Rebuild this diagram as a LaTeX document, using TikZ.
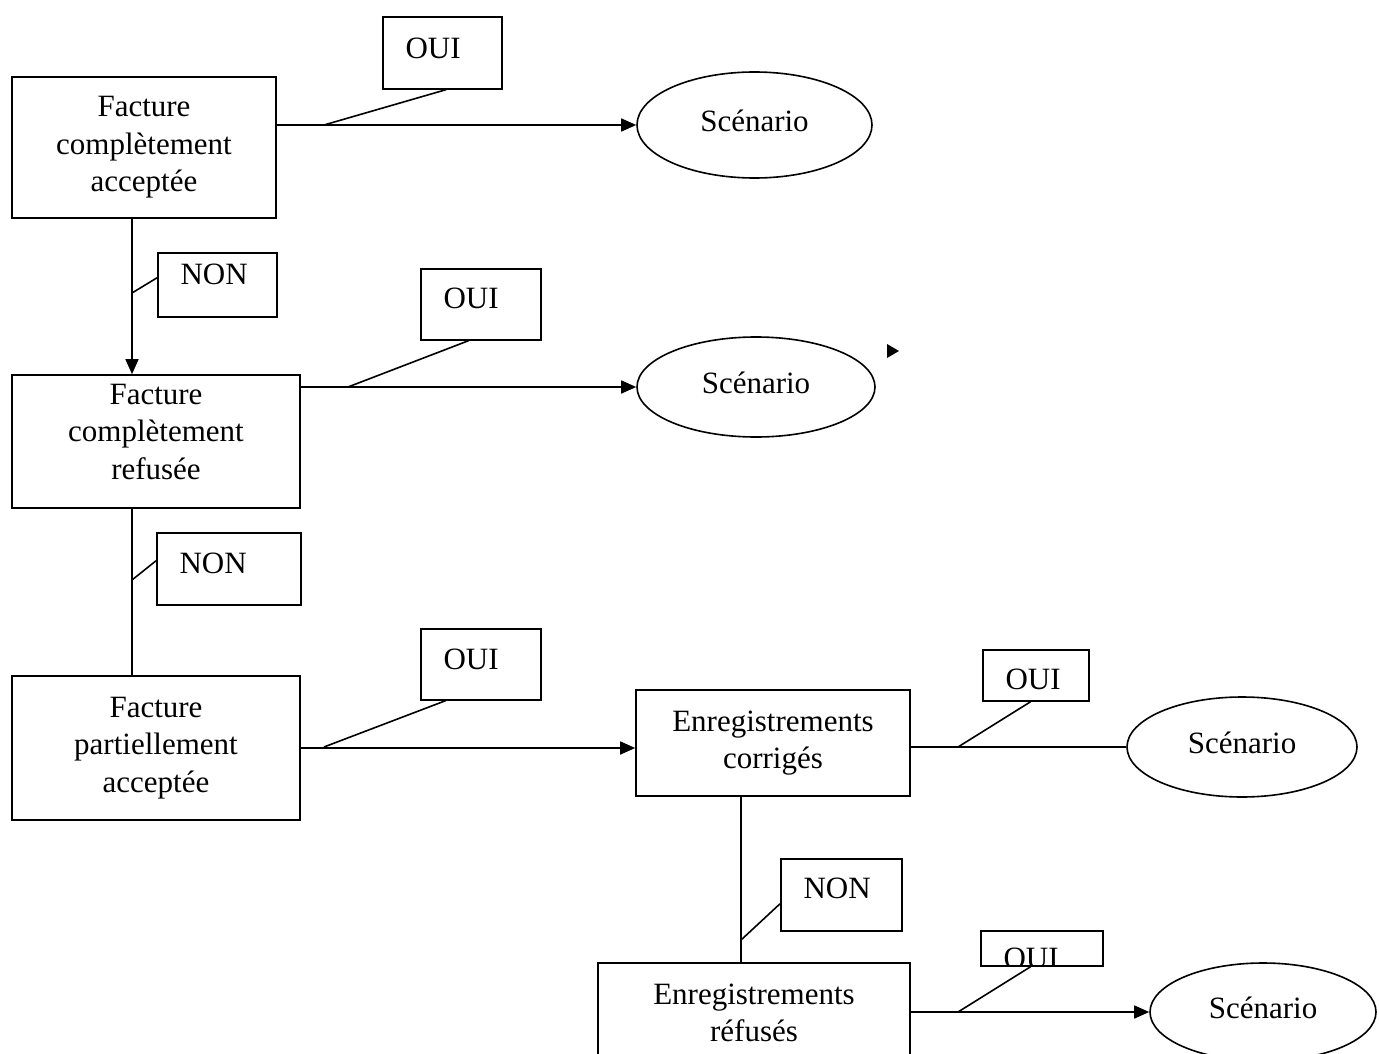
\documentclass[tikz,border=0pt]{standalone}
\usepackage{fontspec}
\setmainfont{Liberation Serif}
\usetikzlibrary{shapes.geometric,arrows.meta}

\tikzset{
	trait/.style={line width=1.6pt},
	fleche/.style={trait, -{Triangle[length=15pt,width=13pt]}},
	etat/.style={draw, trait, align=center, inner sep=0pt},
	scen/.style={draw, trait, ellipse, inner sep=0pt, text depth=9pt},
	choix/.style={draw, trait, anchor=north west, inner sep=0pt},
	% text of a label box, clipped by the box itself
	mot/.style 2 args={path picture={\node[anchor=base west, inner sep=0pt, minimum width=0pt, minimum height=0pt] at ([shift={(22pt,-#2pt)}]path picture bounding box.north west) {#1};}},
}

\begin{document}
\begin{tikzpicture}[x=1pt, y=-1pt, font=\fontsize{31}{37.5}\selectfont]
	\path[use as bounding box, clip] (0,0) rectangle (1379,1054);

	% Etats de la facture
	\node[etat, minimum width=264pt, minimum height=141pt] (facAcc) at (144,147.5) {Facture\\complètement\\acceptée};
	\node[etat, minimum width=288pt, minimum height=133pt, text depth=20pt] (facRef) at (156,441.5) {Facture\\complètement\\refusée};
	\node[etat, minimum width=288pt, minimum height=144pt] (facPart) at (156,748) {Facture\\partiellement\\acceptée};
	\node[etat, minimum width=274pt, minimum height=106pt] (enrCorr) at (773,743) {Enregistrements\\corrigés};
	\node[etat, minimum width=312pt, minimum height=100pt] (enrRef) at (754,1013) {Enregistrements\\réfusés};

	% Scenarios
	\node[scen, minimum width=235pt, minimum height=106pt] (sc1) at (754.5,125) {Scénario};
	\node[scen, minimum width=238pt, minimum height=100pt] (sc2) at (756,387) {Scénario};
	\node[scen, minimum width=230pt, minimum height=100pt] (sc3) at (1242,747) {Scénario};
	\node[scen, minimum width=226pt, minimum height=98pt] (sc4) at (1263,1012) {Scénario};

	% Liaisons
	\draw[fleche] (facAcc.east |- sc1.west) -- (sc1.west);
	\draw[fleche] (facRef.east |- sc2.west) -- (sc2.west);
	\draw[fleche] (facPart.east) -- (facPart.east -| enrCorr.west);
	\draw[trait] (enrCorr.east |- sc3.west) -- (sc3.west);
	\draw[fleche] (enrRef.east |- sc4.west) -- (sc4.west);
	\draw[fleche] ([xshift=-12pt]facAcc.south) -- ([xshift=-12pt]facAcc.south |- facRef.north);
	\draw[trait] ([xshift=-24pt]facRef.south) -- ([xshift=-24pt]facRef.south |- facPart.north);
	\draw[trait] ([xshift=-32pt]enrCorr.south) -- ([xshift=-32pt]enrCorr.south |- enrRef.north);

	% Etiquettes OUI / NON
	\node[choix, minimum width=119pt, minimum height=72pt, mot={OUI}{42}] (oui1) at (382,16) {};
	\node[choix, minimum width=120pt, minimum height=71pt, mot={OUI}{40}] (oui2) at (420,268) {};
	\node[choix, minimum width=120pt, minimum height=71pt, mot={OUI}{41}] (oui3) at (420,628) {};
	\node[choix, minimum width=106pt, minimum height=51pt, mot={OUI}{40}] (oui4) at (982,649) {};
	\node[choix, minimum width=122pt, minimum height=35pt, mot={OUI}{38}] (oui5) at (980,930) {};
	\node[choix, minimum width=119pt, minimum height=64pt, mot={NON}{32}] (non1) at (157,252) {};
	\node[choix, minimum width=144pt, minimum height=72pt, mot={NON}{41}] (non2) at (156,532) {};
	\node[choix, minimum width=121pt, minimum height=72pt, mot={NON}{40}] (non3) at (780,858) {};

	\coordinate (c1) at (324,125);
	\coordinate (c2) at (348,387);
	\coordinate (c3) at (324,747);
	\coordinate (c4) at (958,747);
	\coordinate (c5) at (958,1012);
	\coordinate (n1) at (132,293);
	\coordinate (n2) at (132,580);
	\coordinate (n3) at (741,940);
	\draw[trait] ([xshift=4pt]oui1.south) -- (c1);
	\draw[trait] ([xshift=-12pt]oui2.south) -- (c2);
	\draw[trait] ([xshift=-35pt]oui3.south) -- (c3);
	\draw[trait] ([xshift=-5pt]oui4.south) -- (c4);
	\draw[trait] ([xshift=-11pt]oui5.south) -- (c5);
	\draw[trait] ([yshift=7pt]non1.west) -- (n1);
	\draw[trait] ([yshift=8pt]non2.west) -- (n2);
	\draw[trait] ([yshift=-9pt]non3.west) -- (n3);

	% pointe isolee
	\fill (887,344) -- (899,351) -- (887,358) -- cycle;
\end{tikzpicture}
\end{document}
